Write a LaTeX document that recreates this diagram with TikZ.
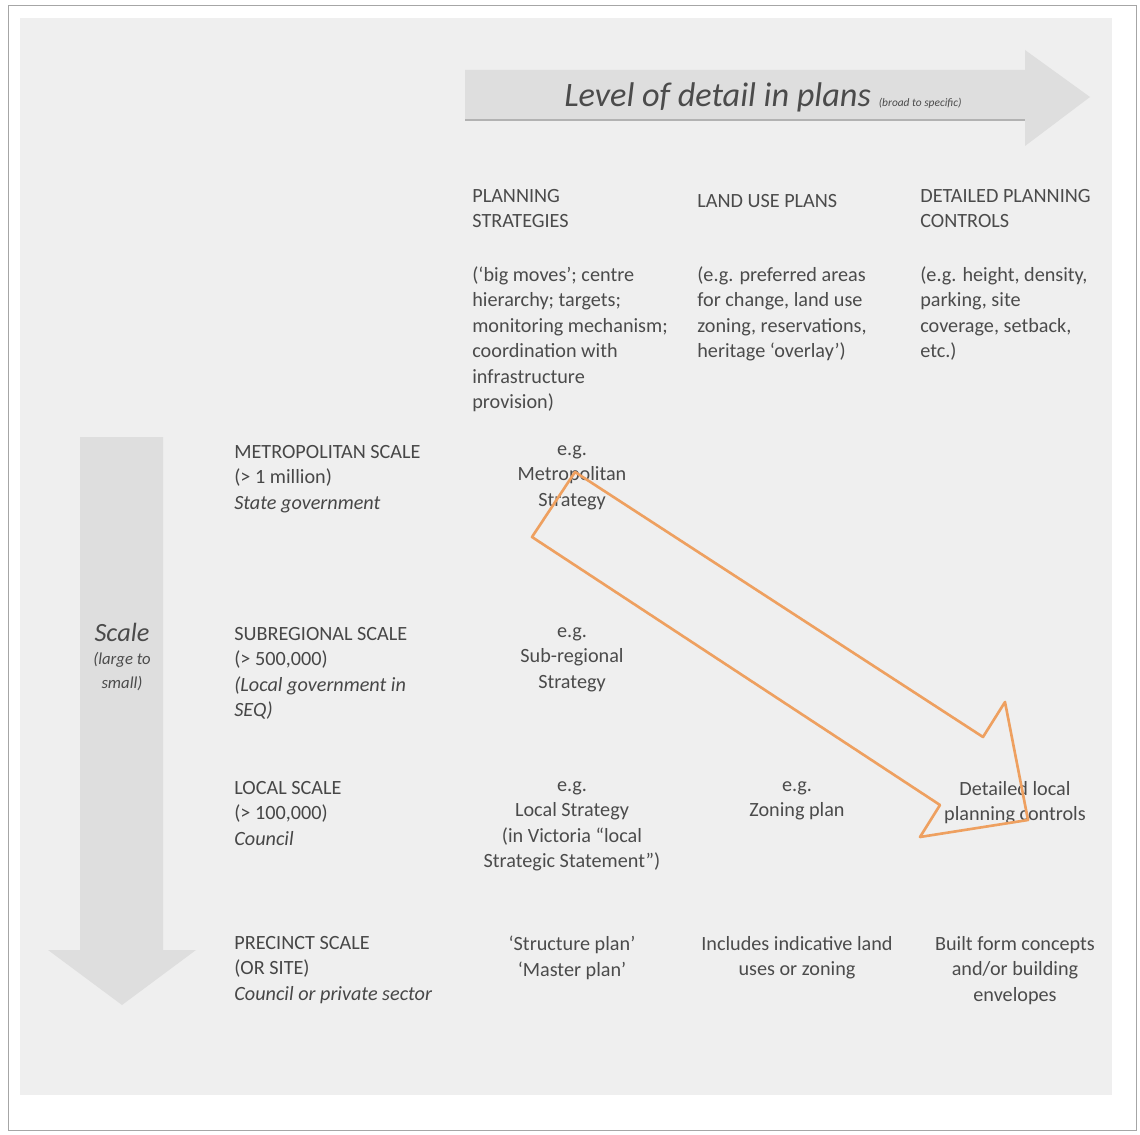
\documentclass[tikz,border=0pt]{standalone}
\usepackage{fontspec}
\setmainfont{Carlito}
\usetikzlibrary{positioning}
\definecolor{panelgray}{RGB}{239,239,239}
\definecolor{arrowgray}{RGB}{222,222,222}
\definecolor{txtgray}{RGB}{75,75,75}
\definecolor{orangeline}{RGB}{238,160,96}

\begin{document}
\begin{tikzpicture}[x=0.02cm, y=-0.02cm,
        txt/.style={inner sep=0pt, text=txtgray, font=\fontsize{11.5}{14.5}\selectfont, execute at begin node=\strut},
        hdr/.style={txt, anchor=north west, align=left},
        rowlab/.style={txt, anchor=north west, align=left, text=black!72},
        cellc/.style={txt, anchor=north, align=center},
        blockarrow/.style={fill=arrowgray, draw=none},
        flow/.style={draw=orangeline, line width=1.5pt, line join=round}
    ]
    \useasboundingbox (0,0) rectangle (1140,1135);
    % Frame and panel
    \draw[gray!70, fill=white] (8,5) rectangle (1136,1130);
    \fill[panelgray] (20,18) rectangle (1112,1095);
    % Block arrows
    \fill[blockarrow] (465,70) -- (1025,70) -- (1025,50) -- (1090,97) -- (1025,146) -- (1025,120) -- (465,120) -- cycle;
    \draw[gray!60, line width=1pt] (465,120) -- (1025,120);
    \fill[blockarrow] (80,437) -- (163,437) -- (163,950) -- (196,950) -- (122,1005) -- (48,950) -- (80,950) -- cycle;
    \node (lvl) at (763,97) {\color{txtgray}\fontsize{19.5}{22}\selectfont\itshape Level of detail in plans\ {\fontsize{6.5}{7}\selectfont (broad to specific)}};
    \node[font=\fontsize{15}{17}\selectfont\itshape, text=txtgray, inner sep=0pt] (scale) at (122,632) {Scale};
    \node[font=\fontsize{9.5}{13.6}\selectfont\itshape, text=txtgray, align=center, inner sep=0pt, below=0.2cm of scale] (scalesub) {(large to\\small)};
    % Column headers
    \node[hdr] (hdrA) at (472,189) {PLANNING\\STRATEGIES};
    \node[hdr] (hdrB) at (697,189) {LAND USE PLANS};
    \node[hdr] (hdrC) at (920,189) {DETAILED PLANNING\\CONTROLS};
    \node[hdr] (descA) at (472,266) {(`big moves'; centre\\hierarchy; targets;\\monitoring mechanism;\\coordination with\\infrastructure\\provision)};
    \node[hdr] (descB) at (697,266) {(e.g. preferred areas\\for change, land use\\zoning, reservations,\\heritage `overlay')};
    \node[hdr] (descC) at (920,266) {(e.g. height, density,\\parking, site\\coverage, setback,\\etc.)};
    % Row labels
    \node[rowlab] (metro) at (234,445) {METROPOLITAN SCALE\\(> 1 million)\\\textit{State government}};
    \node[rowlab] (subreg) at (234,627) {SUBREGIONAL SCALE\\(> 500,000)\\\textit{(Local government in}\\\textit{SEQ)}};
    \node[rowlab] (local) at (234,781) {LOCAL SCALE\\(> 100,000)\\\textit{Council}};
    \node[rowlab] (precinct) at (234,936) {PRECINCT SCALE\\(OR SITE)\\\textit{Council or private sector}};
    % Cells
    \node[cellc] (metroA) at (572,445) {e.g.\\Metropolitan\\Strategy};
    \node[cellc] (subregA) at (572,627) {e.g.\\Sub-regional\\Strategy};
    \node[cellc] (localA) at (572,781) {e.g.\\Local Strategy\\(in Victoria ``local\\Strategic Statement'')};
    \node[cellc] (localB) at (797,781) {e.g.\\Zoning plan};
    \node[cellc] (localC) at (1015,781) {Detailed local\\planning controls};
    \node[cellc] (precA) at (572,936) {`Structure plan'\\`Master plan'};
    \node[cellc] (precB) at (797,936) {Includes indicative land\\uses or zoning};
    \node[cellc] (precC) at (1015,936) {Built form concepts\\and/or building\\envelopes};
    % Orange arrow
    \draw[flow] (575,472) -- (983,737) -- (1005,702) -- (1028,820) -- (920,837) -- (940,805) -- (532,537) -- cycle;
\end{tikzpicture}
\end{document}
